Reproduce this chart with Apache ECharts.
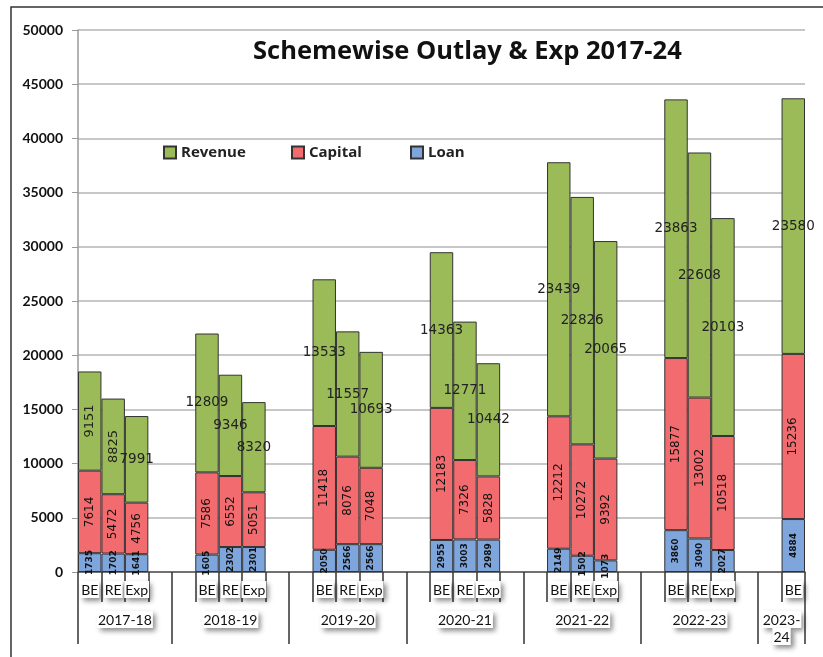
<!DOCTYPE html>
<html>
<head>
<meta charset="utf-8">
<script src="https://cdn.jsdelivr.net/npm/echarts@6/dist/echarts.min.js"></script>
<style>
  html, body { margin: 0; padding: 0; background: #fff; }
  #chart { width: 823px; height: 657px; }
</style>
</head>
<body>
<div id="chart"></div>
<script>
// years and the bars each year has
const years = ['2017-18', '2018-19', '2019-20', '2020-21', '2021-22', '2022-23', '2023-24'];
const kinds = [
  ['BE', 'RE', 'Exp'], ['BE', 'RE', 'Exp'], ['BE', 'RE', 'Exp'], ['BE', 'RE', 'Exp'],
  ['BE', 'RE', 'Exp'], ['BE', 'RE', 'Exp'], ['BE']
];
// values, one per bar, in year order
const loan    = [1735, 1702, 1641, 1605, 2302, 2301, 2050, 2566, 2566, 2955, 3003, 2989, 2149, 1502, 1073, 3860, 3090, 2027, 4884];
const capital = [7614, 5472, 4756, 7586, 6552, 5051, 11418, 8076, 7048, 12183, 7326, 5828, 12212, 10272, 9392, 15877, 13002, 10518, 15236];
const revenue = [9151, 8825, 7991, 12809, 9346, 8320, 13533, 11557, 10693, 14363, 12771, 10442, 23439, 22826, 20065, 23863, 22608, 20103, 23580];
const yTicks = [0, 5000, 10000, 15000, 20000, 25000, 30000, 35000, 40000, 45000, 50000];

// build category slots: empty slot before each year (not the first) and after (not the last)
let cats = [], slotBar = [], groupStart = [], groupCenter = {};
let b = 0;
years.forEach((y, gi) => {
  const start = cats.length;
  groupStart.push(start);
  if (gi > 0) { cats.push(''); slotBar.push(-1); }
  kinds[gi].forEach(k => { cats.push(k); slotBar.push(b++); });
  if (gi < years.length - 1) { cats.push(''); slotBar.push(-1); }
  const size = cats.length - start;
  // center in half-slot units
  groupCenter[start * 2 + size] = size < 3 ? y.replace('-', '-\n') : y;
});

const pick = (arr, fn) => slotBar.map(i => i < 0 ? '-' : (fn ? fn(arr[i], i) : arr[i]));

const chart = echarts.init(document.getElementById('chart'));

const boxRich = {
  b: {
    backgroundColor: '#fff',
    shadowColor: 'rgba(0,0,0,0.45)',
    shadowBlur: 5,
    shadowOffsetX: 3,
    shadowOffsetY: 3,
    color: '#111',
    fontFamily: 'Lato',
    fontSize: 14,
    lineHeight: 17,
    padding: [2, 1, 1, 1]
  }
};
const boxed = v => v ? '{b|' + v + '}' : '';

const legendBase = {
  top: 145, padding: 0, itemWidth: 12, itemHeight: 12, icon: 'rect',
  textStyle: { fontFamily: 'Open Sans', fontWeight: 'bold', fontSize: 15, color: '#222' }
};

const option = {
  animation: false,
  title: {
    text: 'Schemewise Outlay & Exp 2017-24',
    left: 248, top: 34,
    textStyle: { fontFamily: 'Open Sans', fontWeight: 'bold', fontSize: 25.5, color: '#111' }
  },
  legend: [
    Object.assign({ left: 163, data: ['Revenue'] }, legendBase),
    Object.assign({ left: 291, data: ['Capital'] }, legendBase),
    Object.assign({ left: 410, data: ['Loan'] }, legendBase)
  ],
  grid: { left: 78, right: 18, top: 30, bottom: 85 },
  graphic: [{
    type: 'rect', z: -1, silent: true,
    shape: { x: 11, y: 7, width: 830, height: 700 },
    style: { fill: 'none', stroke: '#333', lineWidth: 1.5 }
  }],
  xAxis: [{
    type: 'category', position: 'bottom', data: cats,
    axisLine: { show: true, lineStyle: { color: '#555', width: 1.5 } },
    axisTick: { show: true, interval: 0, length: 30, lineStyle: { color: '#333', width: 1.5 } },
    axisLabel: { interval: 0, margin: 9, formatter: boxed, rich: boxRich }
  }, {
    type: 'category', position: 'bottom', data: cats,
    axisLine: { show: false },
    axisTick: { show: true, interval: i => groupStart.includes(i), length: 72, lineStyle: { color: '#333', width: 1.5 } },
    axisLabel: { show: false }
  }, {
    type: 'value', position: 'bottom', min: 0, max: cats.length * 2, interval: 1,
    axisLine: { show: false }, axisTick: { show: false }, splitLine: { show: false },
    axisLabel: { margin: 39, showMinLabel: true, showMaxLabel: true,
      formatter: v => boxed(groupCenter[v]), rich: boxRich }
  }],
  yAxis: {
    type: 'value', min: yTicks[0], max: yTicks[yTicks.length - 1], interval: 5000,
    axisLine: { show: true, lineStyle: { color: '#999', width: 1.5 } },
    axisTick: { show: true, length: 6, lineStyle: { color: '#999' } },
    axisLabel: { margin: 15, formatter: v => String(v), fontFamily: 'Lato', fontWeight: 'bold', fontSize: 14, color: '#111' },
    splitLine: { lineStyle: { color: '#b4b4b4', width: 1.5 } }
  },
  series: [{
    name: 'Loan', type: 'bar', stack: 'a', barCategoryGap: '0%',
    data: pick(loan),
    itemStyle: { color: '#7ea6dc', borderColor: '#333', borderWidth: 1 },
    label: { show: true, position: 'inside', rotate: 90, fontFamily: 'DejaVu Sans', fontWeight: 'bold', fontSize: 9, color: '#111' }
  }, {
    name: 'Capital', type: 'bar', stack: 'a', barCategoryGap: '0%',
    data: pick(capital),
    itemStyle: { color: '#f26b6e', borderColor: '#333', borderWidth: 1 },
    label: { show: true, position: 'inside', rotate: 90, fontFamily: 'DejaVu Sans', fontSize: 12, color: '#111' }
  }, {
    name: 'Revenue', type: 'bar', stack: 'a', barCategoryGap: '0%',
    data: pick(revenue, (v, i) => i < 2 ? { value: v, label: { rotate: 90, fontSize: 13 } } : v),
    itemStyle: { color: '#9bbb59', borderColor: '#333', borderWidth: 1 },
    label: { show: true, position: 'inside', fontFamily: 'DejaVu Sans', fontSize: 13.5, color: '#222' }
  }]
};
chart.setOption(option);
</script>
</body>
</html>
